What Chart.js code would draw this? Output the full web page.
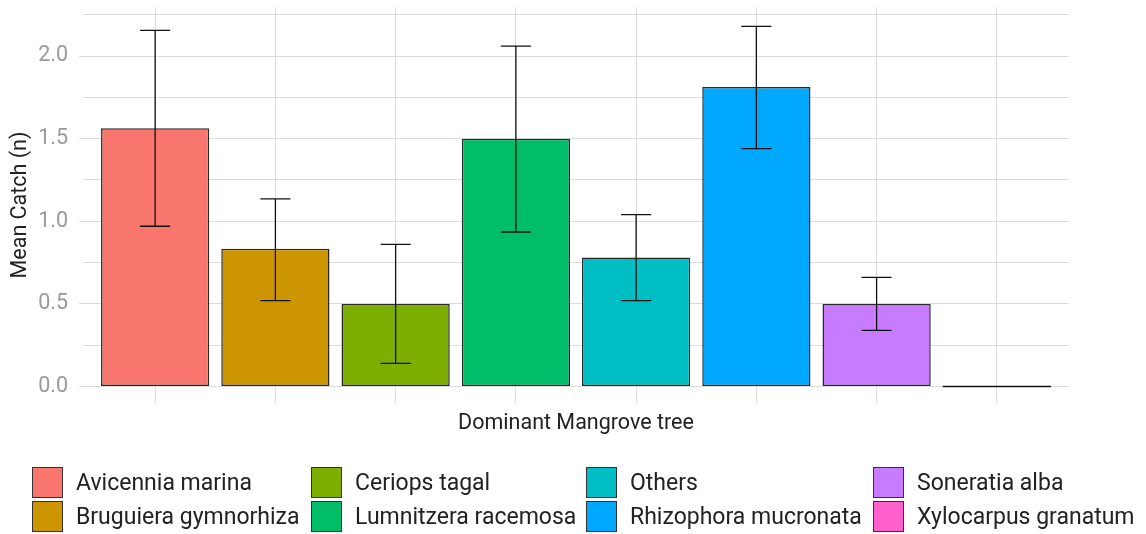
<!DOCTYPE html>
<html>
<head>
<meta charset="utf-8">
<script src="https://cdn.jsdelivr.net/npm/chart.js@4.4.1/dist/chart.umd.min.js"></script>
<style>
  html, body { margin: 0; padding: 0; background: #fff; }
  #wrap { position: relative; width: 1146px; height: 534px; font-family: Roboto, sans-serif; }
  #legend .item { position: absolute; display: flex; align-items: center; height: 31px; }
  #legend .box { width: 29px; height: 29px; border: 1px solid #333; box-sizing: content-box; }
  #legend .lbl { margin-left: 13px; font-size: 23px; color: #222; white-space: nowrap; }
</style>
</head>
<body>
<div id="wrap">
  <canvas id="myChart" width="1146" height="534"></canvas>
  <div id="legend"></div>
</div>
<script>
// Données
const trees = ['Avicennia marina', 'Bruguiera gymnorhiza', 'Ceriops tagal', 'Lumnitzera racemosa',
               'Others', 'Rhizophora mucronata', 'Soneratia alba', 'Xylocarpus granatum'];
const meanCatch = [1.5625, 0.833, 0.5, 1.5, 0.78, 1.8125, 0.5, 0];
const errLow  = [0.97, 0.52, 0.14, 0.935, 0.52, 1.44, 0.34, null];
const errHigh = [2.155, 1.135, 0.86, 2.06, 1.04, 2.18, 0.66, null];
const colors = ['#F8766D', '#CD9600', '#7CAE00', '#00BE67', '#00BFC4', '#00A9FF', '#C77CFF', '#FF61CC'];
const yTicks = [0, 0.25, 0.5, 0.75, 1, 1.25, 1.5, 1.75, 2, 2.25];
const yRange = [-0.1, 2.297];

// Barres d'erreur + barre de hauteur nulle
const errorBars = {
    id: 'errorBars',
    afterDatasetsDraw(chart) {
        const ctx = chart.ctx;
        const xs = chart.scales.x;
        const ys = chart.scales.y;
        const meta = chart.getDatasetMeta(0);
        ctx.save();
        ctx.strokeStyle = '#111';
        ctx.lineWidth = 1.3;
        meanCatch.forEach((v, i) => {
            if (v === 0) {
                const bar = meta.data[i];
                ctx.beginPath();
                ctx.moveTo(bar.x - bar.width / 2, ys.getPixelForValue(0));
                ctx.lineTo(bar.x + bar.width / 2, ys.getPixelForValue(0));
                ctx.stroke();
            }
            if (errLow[i] === null) return;
            const x = xs.getPixelForValue(i);
            const half = xs.getPixelForValue(i + 0.125) - x;
            const y1 = ys.getPixelForValue(errLow[i]);
            const y2 = ys.getPixelForValue(errHigh[i]);
            ctx.beginPath();
            ctx.moveTo(x, y1); ctx.lineTo(x, y2);
            ctx.moveTo(x - half, y1); ctx.lineTo(x + half, y1);
            ctx.moveTo(x - half, y2); ctx.lineTo(x + half, y2);
            ctx.stroke();
        });
        ctx.restore();
    }
};

const ctx = document.getElementById('myChart').getContext('2d');
const myChart = new Chart(ctx, {
    type: 'bar',
    data: {
        datasets: [{
            label: 'Mean Catch',
            data: meanCatch.map((v, i) => ({ x: i, y: v })),
            backgroundColor: colors,
            borderColor: '#2a2a2a',
            borderWidth: 1.5,
            borderSkipped: false,
            barPercentage: 0.9,
            categoryPercentage: 1.0
        }]
    },
    options: {
        responsive: false,
        animation: false,
        layout: { padding: { left: 0, top: 7, right: 77, bottom: 91 } },
        plugins: {
            legend: { display: false },
            tooltip: { enabled: false }
        },
        scales: {
            x: {
                type: 'linear',
                offset: false,
                min: -0.6,
                max: trees.length - 1 + 0.6,
                afterBuildTicks: scale => { scale.ticks = trees.map((t, i) => ({ value: i })); },
                afterFit: scale => { scale.height = 40; scale.paddingLeft = 0; scale.paddingRight = 0; },
                ticks: { display: false },
                grid: { color: '#dcdcdc', lineWidth: 1, drawTicks: false, offset: false },
                border: { display: false },
                title: {
                    display: true,
                    text: 'Dominant Mangrove tree',
                    color: '#222',
                    font: { family: 'Roboto', size: 21.5 },
                    padding: { top: 0, bottom: 6 }
                }
            },
            y: {
                min: yRange[0],
                max: yRange[1],
                afterBuildTicks: scale => { scale.ticks = yTicks.map(v => ({ value: v })); },
                afterFit: scale => { scale.width = 83; scale.paddingTop = 0; scale.paddingBottom = 0; },
                ticks: {
                    color: '#999',
                    padding: 11,
                    font: { family: 'Roboto', size: 21.5 },
                    callback: v => (Math.abs(v * 2 - Math.round(v * 2)) < 1e-6 ? v.toFixed(1) : '')
                },
                grid: {
                    color: '#dcdcdc',
                    lineWidth: 1,
                    tickLength: 4,
                    tickColor: c => (c.tick && Math.abs(c.tick.value * 2 - Math.round(c.tick.value * 2)) < 1e-6 ? '#dcdcdc' : 'rgba(0,0,0,0)')
                },
                border: { display: false },
                title: {
                    display: true,
                    text: 'Mean Catch (n)',
                    color: '#222',
                    font: { family: 'Roboto', size: 21.5 },
                    padding: { top: 8, bottom: 0 }
                }
            }
        }
    },
    plugins: [errorBars]
});

// Légende façon ggplot (par colonnes)
const legendCols = [32, 311, 586, 873];
const legendRows = [467, 501];
const legend = document.getElementById('legend');
trees.forEach((name, i) => {
    const item = document.createElement('div');
    item.className = 'item';
    item.style.left = legendCols[Math.floor(i / 2)] + 'px';
    item.style.top = legendRows[i % 2] + 'px';
    item.innerHTML = `<div class="box" style="background:${colors[i]}"></div><span class="lbl">${name}</span>`;
    legend.appendChild(item);
});
</script>
</body>
</html>
